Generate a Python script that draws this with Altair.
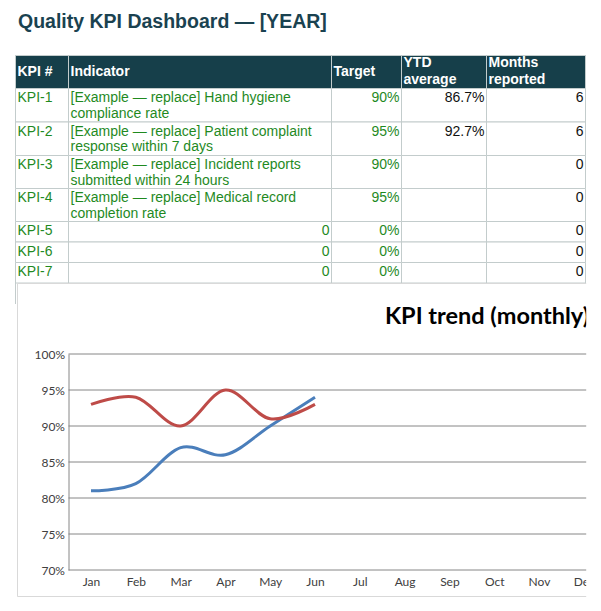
import textwrap
import altair as alt
import pandas as pd

# ---------------- data ----------------
page_title = "Quality KPI Dashboard — [YEAR]"
headers = ["KPI #", "Indicator", "Target", "YTD\naverage", "Months\nreported"]
kpi_ids = ["KPI-1", "KPI-2", "KPI-3", "KPI-4", "KPI-5", "KPI-6", "KPI-7"]
indicators = [
    "[Example — replace] Hand hygiene compliance rate",
    "[Example — replace] Patient complaint response within 7 days",
    "[Example — replace] Incident reports submitted within 24 hours",
    "[Example — replace] Medical record completion rate",
    0, 0, 0,
]
targets = [0.90, 0.95, 0.90, 0.95, 0, 0, 0]
ytd_average = [0.867, 0.927, None, None, None, None, None]
months_reported = [6, 6, 0, 0, 0, 0, 0]

chart_title = "KPI trend (monthly)"
months = ["Jan", "Feb", "Mar", "Apr", "May", "Jun",
          "Jul", "Aug", "Sep", "Oct", "Nov", "Dec"]
series_names = ["KPI-1", "KPI-2"]
kpi1_monthly = [0.81, 0.82, 0.87, 0.86, 0.90, 0.94]
kpi2_monthly = [0.93, 0.94, 0.90, 0.95, 0.91, 0.93]
y_ticks = [0.70, 0.75, 0.80, 0.85, 0.90, 0.95, 1.00]

# ---------------- layout / style ----------------
W, H = 601, 611
col_edges = [15.5, 68.5, 331.5, 401.5, 486.5, 585.5]
row_edges = [55.5, 88.5, 122.0, 155.5, 188.5, 221.5, 242.0, 262.5, 283.0]
HEADER_BG = "#163f4a"
GRID = "#c3cccc"
GREEN = "#1f8a1f"
BLACK = "#111111"
TABLE_FONT = "Liberation Sans"
CHART_FONT = "Lato"
BLUE = "#4a7ebb"
RED = "#be4b48"
AXIS_GRAY = "#868686"

def px(field):
    return alt.X(f"{field}:Q", scale=None, axis=None)

def py(field):
    return alt.Y(f"{field}:Q", scale=None, axis=None)

# cells
cell_rows = []
for r in range(len(row_edges) - 1):
    for c in range(len(col_edges) - 1):
        cell_rows.append(dict(x=col_edges[c], x2=col_edges[c + 1],
                              y=row_edges[r], y2=row_edges[r + 1],
                              fill=HEADER_BG if r == 0 else "#ffffff"))
cells = alt.Chart(pd.DataFrame(cell_rows)).mark_rect(
    stroke=GRID, strokeWidth=1
).encode(x=px("x"), x2="x2:Q", y=py("y"), y2="y2:Q",
         fill=alt.Fill("fill:N", scale=None))

# left border of the next (empty) sheet row, peeking out beside the chart
next_row_edge = alt.Chart(pd.DataFrame(dict(x=[col_edges[0]], y=[283.0], y2=[304.0]))).mark_rule(
    color=GRID, strokeWidth=1
).encode(x=px("x"), y=py("y"), y2="y2:Q")

# header text
hdr = pd.DataFrame(dict(x=[e + 2 for e in col_edges[:-1]],
                        y=[55.5 if "\n" in h else 64.5 for h in headers],
                        t=headers))
header_text = alt.Chart(hdr).mark_text(
    align="left", baseline="top", font=TABLE_FONT, fontSize=14,
    fontWeight="bold", color="#ffffff", lineBreak="\n", lineHeight=17
).encode(x=px("x"), y=py("y"), text="t:N")

# body text
left_rows, right_rows = [], []
for i in range(len(kpi_ids)):
    top = row_edges[i + 1] + 2.5
    left_rows.append(dict(x=col_edges[0] + 2, y=top, t=kpi_ids[i], color=GREEN))
    ind = indicators[i]
    if isinstance(ind, str):
        left_rows.append(dict(x=col_edges[1] + 2, y=top,
                              t="\n".join(textwrap.wrap(ind, 37)), color=GREEN))
    else:
        right_rows.append(dict(x=col_edges[2] - 2, y=top, t=str(ind), color=GREEN))
    right_rows.append(dict(x=col_edges[3] - 2, y=top,
                           t=f"{targets[i]:.0%}", color=GREEN))
    if ytd_average[i] is not None:
        right_rows.append(dict(x=col_edges[4] - 2, y=top,
                               t=f"{ytd_average[i]:.1%}", color=BLACK))
    right_rows.append(dict(x=col_edges[5] - 2, y=top,
                           t=str(months_reported[i]), color=BLACK))

text_props = dict(baseline="top", font=TABLE_FONT, fontSize=14,
                  lineBreak="\n", lineHeight=15.5)
left_text = alt.Chart(pd.DataFrame(left_rows)).mark_text(
    align="left", **text_props
).encode(x=px("x"), y=py("y"), text="t:N", color=alt.Color("color:N", scale=None))
right_text = alt.Chart(pd.DataFrame(right_rows)).mark_text(
    align="right", **text_props
).encode(x=px("x"), y=py("y"), text="t:N", color=alt.Color("color:N", scale=None))

title = alt.Chart(pd.DataFrame(dict(t=[page_title]))).mark_text(
    align="left", baseline="middle", font=TABLE_FONT, fontSize=19.5,
    fontWeight="bold", color="#1a4250"
).encode(x=alt.value(18), y=alt.value(22), text="t:N")

# chart frame (transparent so the axes stay visible)
frame = alt.Chart(pd.DataFrame(dict(x=[17.5], x2=[900], y=[283.5], y2=[596.5]))).mark_rect(
    fillOpacity=0, stroke="#d9d9d9", strokeWidth=1
).encode(x=px("x"), x2="x2:Q", y=py("y"), y2="y2:Q")

ctitle = alt.Chart(pd.DataFrame(dict(t=[chart_title]))).mark_text(
    align="left", baseline="middle", font=CHART_FONT, fontSize=23.5,
    fontWeight="bold", color="#000000"
).encode(x=alt.value(385), y=alt.value(317), text="t:N")

# line chart
yscale = alt.Scale(domain=[0.70, 1.00], range=[570, 354], zero=False, nice=False)
yaxis = alt.Axis(orient="left", offset=-68.5, values=y_ticks, format=".0%",
                 domain=True, domainColor=AXIS_GRAY, ticks=False, grid=False,
                 labelFont=CHART_FONT, labelFontSize=12, labelColor="#404040",
                 labelPadding=4, title=None, zindex=0)
xscale = alt.Scale(type="point", domain=months, range=[91, 583.8], padding=0)
xaxis = alt.Axis(orient="bottom", offset=-41, domain=False, ticks=False, grid=False,
                 labelAngle=0, labelPadding=6, labelFont=CHART_FONT, labelFontSize=12,
                 labelColor="#404040", title=None, zindex=0)

grid_rules = alt.Chart(pd.DataFrame(dict(v=y_ticks))).mark_rule(
    color=AXIS_GRAY, strokeWidth=1
).encode(y=alt.Y("v:Q", scale=yscale, axis=yaxis),
         x=alt.value(68.5), x2=alt.value(W))

line_df = pd.DataFrame(dict(
    month=months[:len(kpi1_monthly)] * 2,
    value=kpi1_monthly + kpi2_monthly,
    series=[series_names[0]] * len(kpi1_monthly) + [series_names[1]] * len(kpi2_monthly),
))
lines = alt.Chart(line_df).mark_line(interpolate="cardinal", strokeWidth=3).encode(
    x=alt.X("month:N", sort=months, scale=xscale, axis=xaxis),
    y=alt.Y("value:Q", scale=yscale, axis=yaxis),
    color=alt.Color("series:N", scale=alt.Scale(domain=series_names, range=[BLUE, RED]),
                    legend=None),
    detail="series:N",
)
trend = alt.layer(grid_rules, lines)

cover = alt.Chart(pd.DataFrame(dict(x=[586.2], x2=[W + 5], y=[283.0], y2=[H + 5]))).mark_rect(
    fill="#ffffff"
).encode(x=px("x"), x2="x2:Q", y=py("y"), y2="y2:Q")

chart = alt.layer(
    cells, next_row_edge, header_text, left_text, right_text, title, frame, ctitle,
    trend, cover
).resolve_scale(
    x="independent", y="independent", color="independent"
).properties(
    width=W, height=H, autosize=alt.AutoSizeParams(type="none"), padding=0
).configure_view(stroke=None)

chart.save("out.html", embed_options={"renderer": "svg", "actions": False})
